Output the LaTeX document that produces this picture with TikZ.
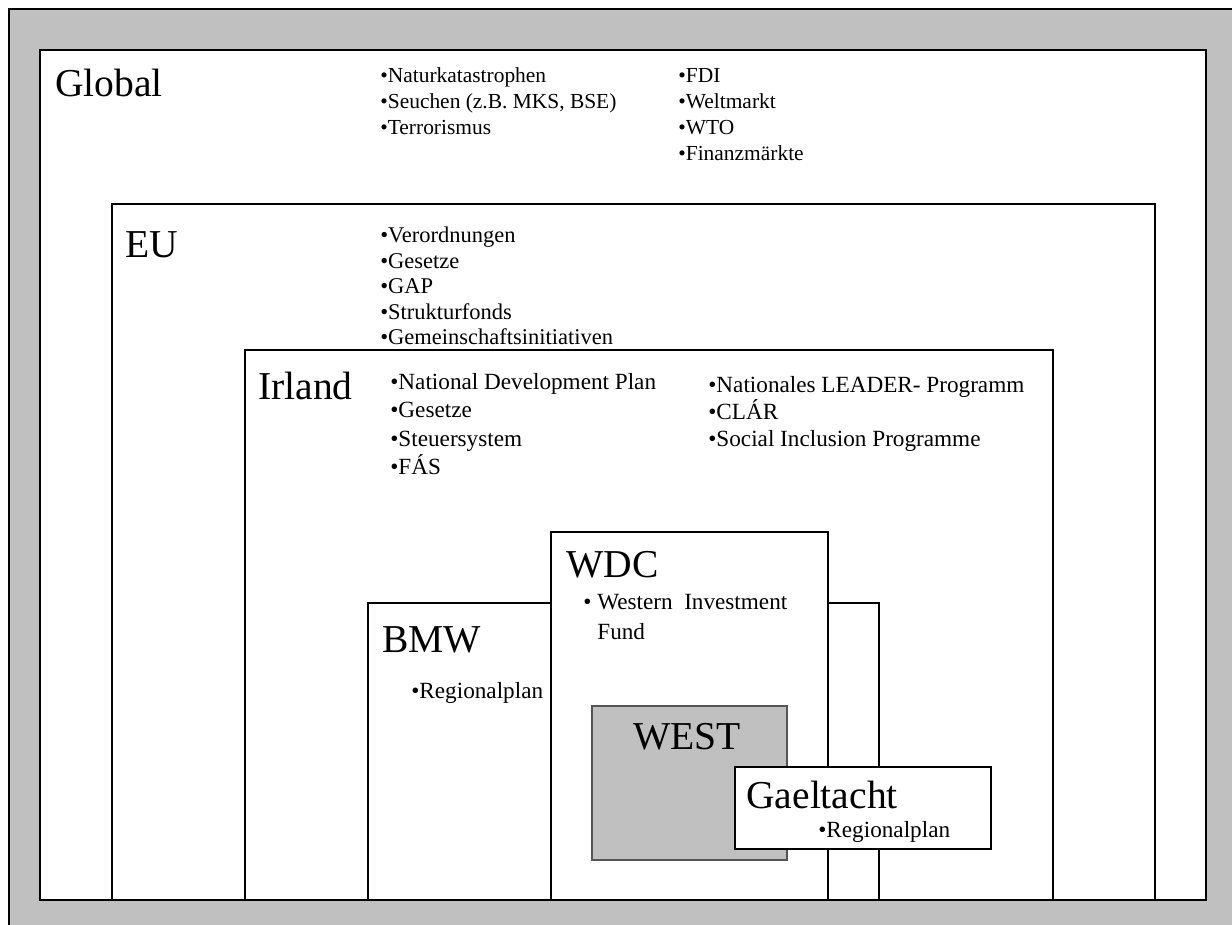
\documentclass[tikz,border=0pt]{standalone}
\usepackage{fontspec}
\setmainfont{Liberation Serif}
\definecolor{panelgray}{HTML}{C0C0C0}
\definecolor{edgegray}{HTML}{555555}
\tikzset{
  level/.style={draw=black, line width=0.8pt, fill=white},
  title/.style={anchor=base west, inner sep=0pt, font=\fontsize{22.5}{27}\selectfont},
  item/.style={anchor=base west, inner sep=0pt, font=\fontsize{13.2}{16}\selectfont},
  globalitem/.style={item, font=\fontsize{12.2}{15}\selectfont},
  euitem/.style={item, font=\fontsize{12.8}{15}\selectfont},
}

\begin{document}
\begin{tikzpicture}[x=0.02cm, y=-0.02cm]
  \useasboundingbox (0,0) rectangle (1232,925);
  \fill[panelgray] (9,9) rectangle (1232,925);
  \draw[line width=1.6pt] (9,925) -- (9,9) -- (1232,9);

  % nested levels
  \draw[level] (40,50) rectangle (1206,900);
  \draw[level] (112,204) rectangle (1155,900);
  \draw[level] (245,350) rectangle (1053,900);
  \draw[level] (368,603) rectangle (879,900);
  \draw[level] (551,532) rectangle (828,900);
  \draw[level, draw=edgegray, fill=panelgray] (592,706) rectangle (787,860);
  \draw[level] (735,767) rectangle (991,849);

  \node[title] (global) at (55,97) {Global};
  \node[globalitem] (g1) at (380,83) {•Naturkatastrophen};
  \node[globalitem] (g2) at (380,109) {•Seuchen (z.B. MKS, BSE)};
  \node[globalitem] (g3) at (380,135) {•Terrorismus};
  \node[globalitem] (g4) at (678,83) {•FDI};
  \node[globalitem] (g5) at (678,109) {•Weltmarkt};
  \node[globalitem] (g6) at (678,135) {•WTO};
  \node[globalitem] (g7) at (678,161) {•Finanzmärkte};

  \node[title] (eu) at (125,258) {EU};
  \node[euitem] (e1) at (380,243) {•Verordnungen};
  \node[euitem] (e2) at (380,268.5) {•Gesetze};
  \node[euitem] (e3) at (380,294) {•GAP};
  \node[euitem] (e4) at (380,319.5) {•Strukturfonds};
  \node[euitem] (e5) at (380,345) {•Gemeinschaftsinitiativen};

  \node[title] (irland) at (258,400) {Irland};
  \node[item] (i1) at (390,390) {•National Development Plan};
  \node[item] (i2) at (390,418) {•Gesetze};
  \node[item] (i3) at (390,447) {•Steuersystem};
  \node[item] (i4) at (390,475) {•FÁS};
  \node[item] (i5) at (708,393) {•Nationales LEADER- Programm};
  \node[item] (i6) at (708,420) {•CLÁR};
  \node[item] (i7) at (708,447) {•Social Inclusion Programme};

  \node[title] (bmw) at (382,653) {BMW};
  \node[item] (b1) at (411,699) {•Regionalplan};

  \node[title] (wdc) at (566,578) {WDC};
  \node[item] (w1) at (583,610) {• Western\ \ Investment};
  \node[item] (w2) at (597,640) {Fund};

  \node[title] (west) at (633,750) {WEST};

  \node[title] (gaeltacht) at (746,809) {Gaeltacht};
  \node[item] (ga1) at (818,838) {•Regionalplan};
\end{tikzpicture}
\end{document}
